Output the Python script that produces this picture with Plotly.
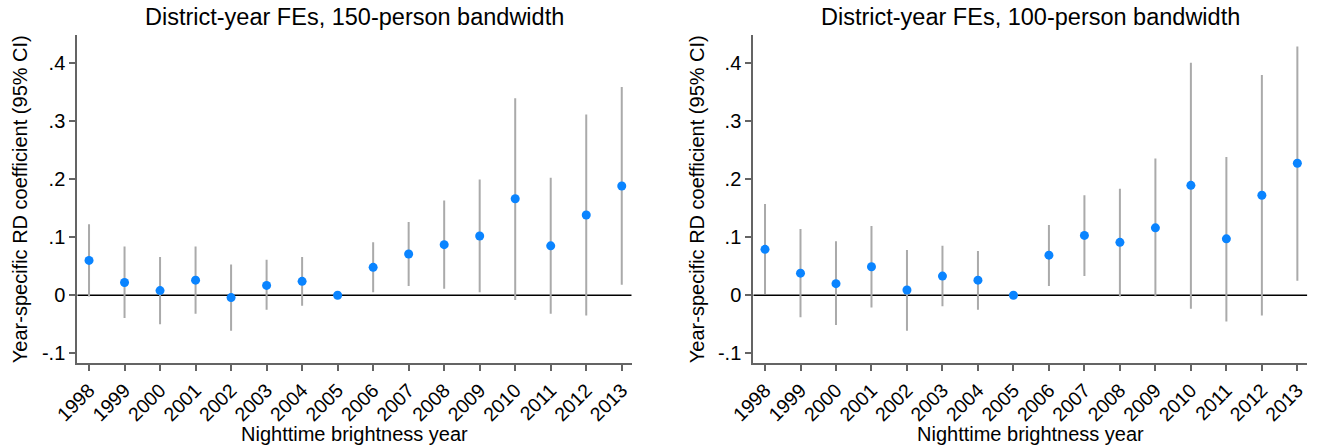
import plotly.graph_objects as go

years = list(range(1998, 2014))

coef_150 = [0.060, 0.022, 0.008, 0.026, -0.004, 0.017, 0.024, 0.000,
            0.048, 0.071, 0.087, 0.102, 0.166, 0.085, 0.138, 0.188]
hi_150 = [0.122, 0.084, 0.066, 0.084, 0.053, 0.061, 0.066, 0.000,
          0.091, 0.126, 0.163, 0.199, 0.339, 0.202, 0.311, 0.358]
lo_150 = [-0.002, -0.039, -0.050, -0.032, -0.061, -0.025, -0.018, 0.000,
          0.005, 0.016, 0.011, 0.005, -0.008, -0.032, -0.035, 0.018]

coef_100 = [0.079, 0.038, 0.020, 0.049, 0.009, 0.033, 0.026, 0.000,
            0.069, 0.103, 0.091, 0.116, 0.189, 0.097, 0.172, 0.227]
hi_100 = [0.157, 0.114, 0.093, 0.119, 0.078, 0.085, 0.076, 0.000,
          0.121, 0.172, 0.183, 0.235, 0.400, 0.238, 0.379, 0.428]
lo_100 = [0.002, -0.038, -0.051, -0.021, -0.061, -0.019, -0.025, 0.000,
          0.016, 0.033, -0.002, -0.002, -0.023, -0.045, -0.035, 0.025]

titles = ["District-year FEs, 150-person bandwidth",
          "District-year FEs, 100-person bandwidth"]
ytick_vals = [-0.1, 0, 0.1, 0.2, 0.3, 0.4]
ytick_text = ["-.1", "0", ".1", ".2", ".3", ".4"]
y_title = "Year-specific RD coefficient (95% CI)"
x_title = "Nighttime brightness year"

W, H = 1318, 445


def px(sx):
    return sx / W


def py(sy):
    return 1 - sy / H


FONT = "Liberation Sans, Arial, sans-serif"
MARKER = "rgb(10,132,255)"
CI = "rgb(170,170,170)"
AX = "rgb(100,100,100)"

fig = go.Figure()

panels = [
    dict(coef=coef_150, lo=lo_150, hi=hi_150, xa="x", ya="y",
         dom=(px(77.3), px(631.7)), ytx=px(20)),
    dict(coef=coef_100, lo=lo_100, hi=hi_100, xa="x2", ya="y2",
         dom=(px(753.3), px(1307.3)), ytx=px(697)),
]

ydom = (py(363.3), py(35))
XR = [1997.67, 2013.28]
annotations = []

for i, p in enumerate(panels):
    plus = [h - c for h, c in zip(p["hi"], p["coef"])]
    minus = [c - l for c, l in zip(p["coef"], p["lo"])]
    fig.add_trace(go.Scatter(
        x=XR, y=[0, 0], mode="lines",
        line=dict(color="black", width=1.5),
        xaxis=p["xa"], yaxis=p["ya"], showlegend=False, hoverinfo="skip"))
    fig.add_trace(go.Scatter(
        x=years, y=p["coef"], mode="markers",
        marker=dict(color=MARKER, size=9),
        error_y=dict(type="data", array=plus, arrayminus=minus,
                     color=CI, thickness=2, width=0, symmetric=False),
        xaxis=p["xa"], yaxis=p["ya"], showlegend=False))
    xcenter = (p["dom"][0] + p["dom"][1]) / 2
    annotations.append(dict(text=titles[i], x=xcenter, y=py(17),
                            xref="paper", yref="paper", showarrow=False,
                            xanchor="center", yanchor="middle",
                            font=dict(size=23.5, color="black", family=FONT)))
    annotations.append(dict(text=x_title, x=xcenter, y=py(434),
                            xref="paper", yref="paper", showarrow=False,
                            xanchor="center", yanchor="middle",
                            font=dict(size=20, color="black", family=FONT)))
    annotations.append(dict(text=y_title, x=p["ytx"], y=(ydom[0] + ydom[1]) / 2,
                            xref="paper", yref="paper", showarrow=False,
                            textangle=-90, xanchor="center", yanchor="middle",
                            font=dict(size=20, color="black", family=FONT)))

xaxis_common = dict(range=XR, tickvals=years,
                    ticktext=[str(y) for y in years], tickangle=-45,
                    ticks="outside", ticklen=6, tickcolor=AX, tickwidth=1.5,
                    showline=True, linecolor=AX, linewidth=2,
                    showgrid=False, zeroline=False, automargin=False,
                    tickfont=dict(size=19.5, color="black", family=FONT))
yaxis_common = dict(range=[-0.117, 0.4476], tickvals=ytick_vals,
                    ticktext=ytick_text, ticks="outside", ticklen=6,
                    tickcolor=AX, tickwidth=1.5,
                    showline=True, linecolor=AX, linewidth=2,
                    showgrid=False, zeroline=False, domain=list(ydom),
                    automargin=False,
                    tickfont=dict(size=20, color="black", family=FONT))

fig.update_layout(
    width=W, height=H,
    margin=dict(l=0, r=0, t=0, b=0, autoexpand=False),
    paper_bgcolor="white", plot_bgcolor="white",
    xaxis=dict(xaxis_common, domain=list(panels[0]["dom"]), anchor="y"),
    yaxis=dict(yaxis_common, anchor="x"),
    xaxis2=dict(xaxis_common, domain=list(panels[1]["dom"]), anchor="y2"),
    yaxis2=dict(yaxis_common, anchor="x2"),
    annotations=annotations,
    font=dict(family=FONT, color="black"),
)

fig.write_html("out.html",
               config={"displayModeBar": False},
               post_script="document.body.style.margin='0';"
                           "document.body.style.overflow='hidden';")
